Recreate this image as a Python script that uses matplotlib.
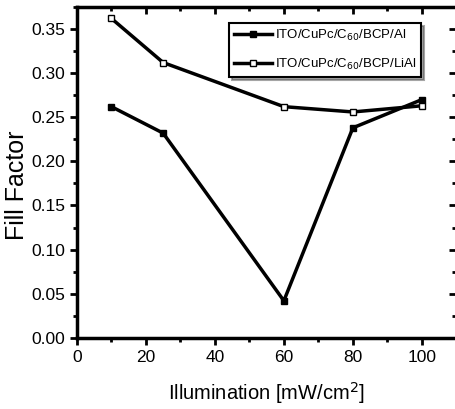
import numpy as np
import matplotlib.pyplot as plt
from matplotlib.ticker import MultipleLocator

plt.rcParams['font.family'] = ['Liberation Sans', 'DejaVu Sans']

illum = [10, 25, 60, 80, 100]
ff_al = [0.262, 0.232, 0.042, 0.238, 0.270]
ff_lial = [0.362, 0.312, 0.262, 0.256, 0.263]

fig = plt.figure(figsize=(4.55, 4.09), dpi=100)
ax = fig.add_axes([0.169, 0.174, 0.834, 0.809])

ax.plot(illum, ff_al, color='black', lw=2.5, marker='s', ms=5,
        mfc='black', mec='black', label='ITO/CuPc/C$_{60}$/BCP/Al')
ax.plot(illum, ff_lial, color='black', lw=2.5, marker='s', ms=5,
        mfc='white', mec='black', mew=1, label='ITO/CuPc/C$_{60}$/BCP/LiAl')

ax.set_xlim(0, 110)
ax.set_ylim(0, 0.375)
ax.xaxis.set_major_locator(MultipleLocator(20))
ax.xaxis.set_minor_locator(MultipleLocator(10))
ax.yaxis.set_major_locator(MultipleLocator(0.05))
ax.yaxis.set_minor_locator(MultipleLocator(0.025))
ax.yaxis.set_major_formatter(plt.FormatStrFormatter('%.2f'))

for s in ax.spines.values():
    s.set_linewidth(2.5)

ax.tick_params(which='both', direction='out', width=2, labelsize=12.5)
ax.tick_params(which='major', length=5)
ax.tick_params(which='minor', length=3)

# inward ticks on top/right
ax2 = ax.secondary_xaxis('top')
ax2.xaxis.set_major_locator(MultipleLocator(20))
ax2.xaxis.set_minor_locator(MultipleLocator(10))
ax2.tick_params(which='both', direction='in', width=2, labeltop=False)
ax2.tick_params(which='major', length=5)
ax2.tick_params(which='minor', length=3)
ay2 = ax.secondary_yaxis('right')
ay2.yaxis.set_major_locator(MultipleLocator(0.05))
ay2.yaxis.set_minor_locator(MultipleLocator(0.025))
ay2.tick_params(which='both', direction='in', width=2, labelright=False)
ay2.tick_params(which='major', length=5)
ay2.tick_params(which='minor', length=3)

ax.set_xlabel('Illumination [mW/cm$^2$]', fontsize=14.5, labelpad=11)
ax.set_ylabel('Fill Factor', fontsize=18)
ax.yaxis.set_label_coords(-0.127, 0.46)

leg = ax.legend(loc='upper right', bbox_to_anchor=(0.915, 0.96), fontsize=9.5,
                frameon=True, fancybox=False, shadow=True, handlelength=2.9,
                borderpad=0.35, labelspacing=1.1, handletextpad=0.25,
                borderaxespad=0.2)
leg.get_frame().set_edgecolor('black')
leg.get_frame().set_linewidth(1.5)

fig.savefig('out.png', dpi=100)
